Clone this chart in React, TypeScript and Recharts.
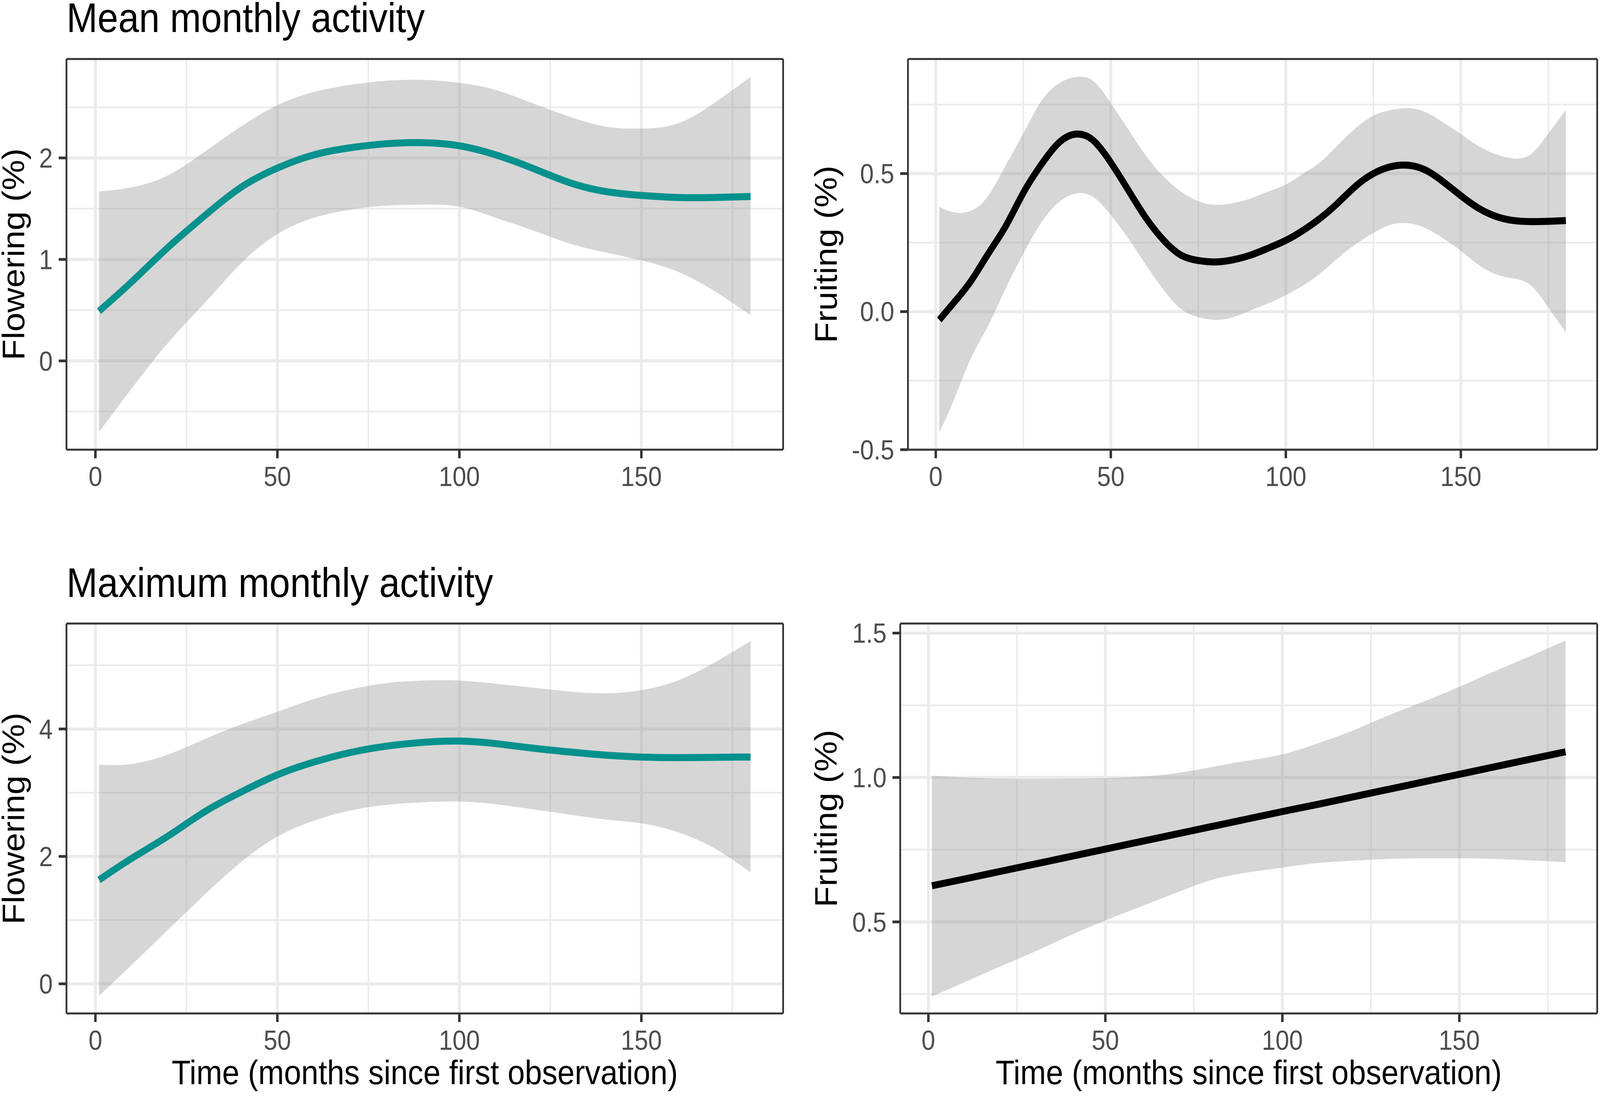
import React from 'react';
import { ComposedChart, Area, Line, XAxis, YAxis, CartesianGrid } from 'recharts';

const FONT = '"Liberation Sans", Arial, Helvetica, sans-serif';
const TEAL = '#05918d';
const PAGE_W = 4550;
const PAGE_H = 2813;

// x positions (months) the curves were read at
const months = [1, 10, 20, 30, 40, 50, 60, 70, 80, 90, 100, 110, 120, 130, 140, 150, 160, 170, 180];
const monthsFine = [
  1, 5, 10, 15, 20, 25, 30, 35, 40, 45, 50, 55, 60, 65, 70, 75, 80, 85, 90,
  95, 100, 105, 110, 115, 120, 125, 130, 135, 140, 145, 150, 155, 160, 165, 170, 175, 180,
];

// Mean monthly activity - flowering
const meanFlowerFit = [0.49, 0.78, 1.12, 1.43, 1.71, 1.9, 2.03, 2.1, 2.14, 2.15, 2.12, 2.03, 1.9, 1.76, 1.67, 1.63, 1.61, 1.61, 1.62];
const meanFlowerHi = [1.67, 1.71, 1.83, 2.06, 2.31, 2.52, 2.65, 2.72, 2.76, 2.77, 2.74, 2.67, 2.54, 2.41, 2.31, 2.29, 2.34, 2.54, 2.8];
const meanFlowerLo = [-0.7, -0.27, 0.18, 0.57, 0.96, 1.25, 1.41, 1.49, 1.53, 1.54, 1.52, 1.41, 1.29, 1.16, 1.07, 0.99, 0.88, 0.69, 0.45];

// Mean monthly activity - fruiting
const meanFruitFit = [
  -0.03, 0.03, 0.11, 0.21, 0.31, 0.43, 0.53, 0.61, 0.643, 0.62, 0.54, 0.44, 0.34, 0.26, 0.205, 0.185, 0.18, 0.188, 0.205,
  0.23, 0.258, 0.295, 0.34, 0.395, 0.455, 0.5, 0.525, 0.53, 0.512, 0.47, 0.42, 0.375, 0.345, 0.33, 0.326, 0.327, 0.33,
];
const meanFruitHi = [
  0.38, 0.36, 0.365, 0.42, 0.53, 0.645, 0.76, 0.825, 0.85, 0.835, 0.755, 0.66, 0.565, 0.49, 0.435, 0.4, 0.387, 0.393, 0.41,
  0.435, 0.46, 0.5, 0.543, 0.605, 0.665, 0.71, 0.73, 0.737, 0.722, 0.685, 0.643, 0.6, 0.57, 0.555, 0.57, 0.645, 0.73,
];
const meanFruitLo = [
  -0.437, -0.325, -0.17, -0.05, 0.085, 0.21, 0.32, 0.395, 0.428, 0.415, 0.35, 0.265, 0.17, 0.08, 0.01, -0.02, -0.03, -0.02, 0.005,
  0.03, 0.06, 0.095, 0.14, 0.195, 0.245, 0.285, 0.315, 0.32, 0.302, 0.265, 0.22, 0.17, 0.135, 0.12, 0.095, 0.015, -0.075,
];

// Maximum monthly activity - flowering
const maxFlowerFit = [1.63, 1.97, 2.32, 2.7, 3.01, 3.28, 3.48, 3.63, 3.73, 3.79, 3.81, 3.77, 3.7, 3.64, 3.59, 3.56, 3.55, 3.555, 3.56];
const maxFlowerHi = [3.44, 3.45, 3.6, 3.84, 4.07, 4.27, 4.47, 4.62, 4.72, 4.76, 4.76, 4.71, 4.65, 4.59, 4.56, 4.61, 4.76, 5.04, 5.38];
const maxFlowerLo = [-0.19, 0.3, 0.85, 1.4, 1.91, 2.31, 2.56, 2.72, 2.81, 2.85, 2.86, 2.82, 2.74, 2.66, 2.58, 2.52, 2.38, 2.13, 1.75];

// Maximum monthly activity - fruiting
const maxFruitFit = [0.625, 0.648, 0.674, 0.7, 0.726, 0.752, 0.778, 0.804, 0.83, 0.856, 0.882, 0.907, 0.933, 0.959, 0.985, 1.011, 1.037, 1.063, 1.089];
const maxFruitHi = [1.006, 1.0, 0.996, 0.995, 0.996, 0.998, 1.003, 1.015, 1.036, 1.058, 1.08, 1.118, 1.163, 1.215, 1.263, 1.314, 1.368, 1.42, 1.474];
const maxFruitLo = [0.242, 0.29, 0.344, 0.397, 0.453, 0.505, 0.553, 0.601, 0.645, 0.671, 0.688, 0.704, 0.712, 0.718, 0.72, 0.72, 0.718, 0.713, 0.707];

const xTicks = [0, 50, 100, 150];
const xMinor = [25, 75, 125, 175];
const X_DOMAIN = [-7.95, 188.95];

const toRows = (xs: number[], lo: number[], fit: number[], hi: number[]) =>
  xs.map((x, i) => ({ x, fit: fit[i], band: [lo[i], hi[i]] }));

type PanelProps = {
  data: any[];
  left: number;
  top: number;
  width: number;
  height: number;
  marginTop: number;
  marginRight: number;
  yAxisWidth: number;
  xAxisHeight: number;
  yDomain: number[];
  yTicks: number[];
  yMinor: number[];
  decimals: number;
  yLabel: string;
  yLabelOffset: number;
  xLabel?: string;
  color: string;
};

const tickStyle = { fontSize: 70, fill: '#4d4d4d', fontFamily: FONT };
const border = { stroke: '#333333', strokeWidth: 5 };
const tickLine = { stroke: '#333333', strokeWidth: 7 };

function Panel(p: PanelProps) {
  return (
    <div style={{ position: 'absolute', left: p.left, top: p.top }}>
      <ComposedChart
        width={p.width}
        height={p.height}
        data={p.data}
        margin={{ top: p.marginTop - 1, right: p.marginRight - 1, bottom: 0, left: 0 }}
      >
        <CartesianGrid stroke="#ebebeb" strokeWidth={4.5} horizontalValues={p.yMinor} verticalValues={xMinor} />
        <CartesianGrid stroke="#ebebeb" strokeWidth={8} horizontalValues={p.yTicks} verticalValues={xTicks} />
        <XAxis
          dataKey="x"
          type="number"
          domain={X_DOMAIN}
          allowDataOverflow
          ticks={xTicks}
          interval={0}
          height={p.xAxisHeight}
          tickSize={22}
          tickMargin={21}
          tick={tickStyle}
          axisLine={border}
          tickLine={tickLine}
          label={
            p.xLabel
              ? {
                  value: p.xLabel,
                  position: 'insideBottom',
                  offset: 38,
                  fontSize: 88,
                  fill: '#000000',
                  style: { fontSize: 88, fill: '#000000', fontFamily: FONT },
                }
              : undefined
          }
        />
        {/* top edge of the panel frame */}
        <XAxis
          xAxisId="top"
          dataKey="x"
          type="number"
          orientation="top"
          domain={X_DOMAIN}
          allowDataOverflow
          height={1}
          tick={false}
          tickLine={false}
          axisLine={border}
        />
        <YAxis
          type="number"
          domain={p.yDomain}
          allowDataOverflow
          ticks={p.yTicks}
          interval={0}
          width={p.yAxisWidth}
          tickSize={22}
          tickMargin={17}
          tick={tickStyle}
          axisLine={border}
          tickLine={tickLine}
          tickFormatter={(v: number) => v.toFixed(p.decimals)}
          label={{
            value: p.yLabel,
            angle: -90,
            position: 'insideLeft',
            offset: p.yLabelOffset,
            fontSize: 88,
            fill: '#000000',
            style: { textAnchor: 'middle', fontSize: 88, fill: '#000000', fontFamily: FONT },
          }}
        />
        {/* right edge of the panel frame */}
        <YAxis
          yAxisId="right"
          orientation="right"
          type="number"
          domain={p.yDomain}
          allowDataOverflow
          width={1}
          tick={false}
          tickLine={false}
          axisLine={border}
        />
        <Area
          dataKey="band"
          type="natural"
          stroke="none"
          fill="#999999"
          fillOpacity={0.4}
          isAnimationActive={false}
        />
        <Line
          dataKey="fit"
          type="natural"
          stroke={p.color}
          strokeWidth={18}
          dot={false}
          activeDot={false}
          isAnimationActive={false}
        />
      </ComposedChart>
    </div>
  );
}

export default function App() {
  // the browser viewport can be narrower than the figure; squeeze horizontally to fit
  const vw = typeof window !== 'undefined' ? window.innerWidth : PAGE_W;
  const sx = Math.min(1, vw / PAGE_W);

  return (
    <div
      style={{
        position: 'absolute',
        left: 0,
        top: 0,
        width: PAGE_W,
        height: PAGE_H,
        background: '#ffffff',
        fontFamily: FONT,
        overflow: 'hidden',
        transform: `scaleX(${sx})`,
        transformOrigin: '0 0',
      }}
    >
      <svg width={PAGE_W} height={PAGE_H} style={{ position: 'absolute', left: 0, top: 0 }}>
        <text x={189} y={82} fontSize={106} fontFamily={FONT} fill="#000000">
          Mean monthly activity
        </text>
        <text x={189} y={1528} fontSize={106} fontFamily={FONT} fill="#000000">
          Maximum monthly activity
        </text>
      </svg>

      <Panel
        data={toRows(months, meanFlowerLo, meanFlowerFit, meanFlowerHi)}
        left={0}
        top={100}
        width={2260}
        height={1171}
        marginTop={51}
        marginRight={33}
        yAxisWidth={189}
        xAxisHeight={120}
        yDomain={[-0.875, 2.975]}
        yTicks={[0, 1, 2]}
        yMinor={[-0.5, 0.5, 1.5, 2.5]}
        decimals={0}
        yLabel="Flowering (%)"
        yLabelOffset={38}
        color={TEAL}
      />
      <Panel
        data={toRows(monthsFine, meanFruitLo, meanFruitFit, meanFruitHi)}
        left={2260}
        top={100}
        width={2290}
        height={1171}
        marginTop={51}
        marginRight={8}
        yAxisWidth={322}
        xAxisHeight={120}
        yDomain={[-0.5, 0.915]}
        yTicks={[-0.5, 0, 0.5]}
        yMinor={[-0.25, 0.25, 0.75]}
        decimals={1}
        yLabel="Fruiting (%)"
        yLabelOffset={88}
        color="#000000"
      />
      <Panel
        data={toRows(months, maxFlowerLo, maxFlowerFit, maxFlowerHi)}
        left={0}
        top={1500}
        width={2260}
        height={1313}
        marginTop={96}
        marginRight={33}
        yAxisWidth={189}
        xAxisHeight={219}
        yDomain={[-0.465, 5.655]}
        yTicks={[0, 2, 4]}
        yMinor={[1, 3, 5]}
        decimals={0}
        yLabel="Flowering (%)"
        yLabelOffset={38}
        xLabel="Time (months since first observation)"
        color={TEAL}
      />
      <Panel
        data={toRows(months, maxFruitLo, maxFruitFit, maxFruitHi)}
        left={2260}
        top={1500}
        width={2290}
        height={1313}
        marginTop={96}
        marginRight={8}
        yAxisWidth={300}
        xAxisHeight={219}
        yDomain={[0.183, 1.533]}
        yTicks={[0.5, 1, 1.5]}
        yMinor={[0.25, 0.75, 1.25]}
        decimals={1}
        yLabel="Fruiting (%)"
        yLabelOffset={88}
        xLabel="Time (months since first observation)"
        color="#000000"
      />
    </div>
  );
}
